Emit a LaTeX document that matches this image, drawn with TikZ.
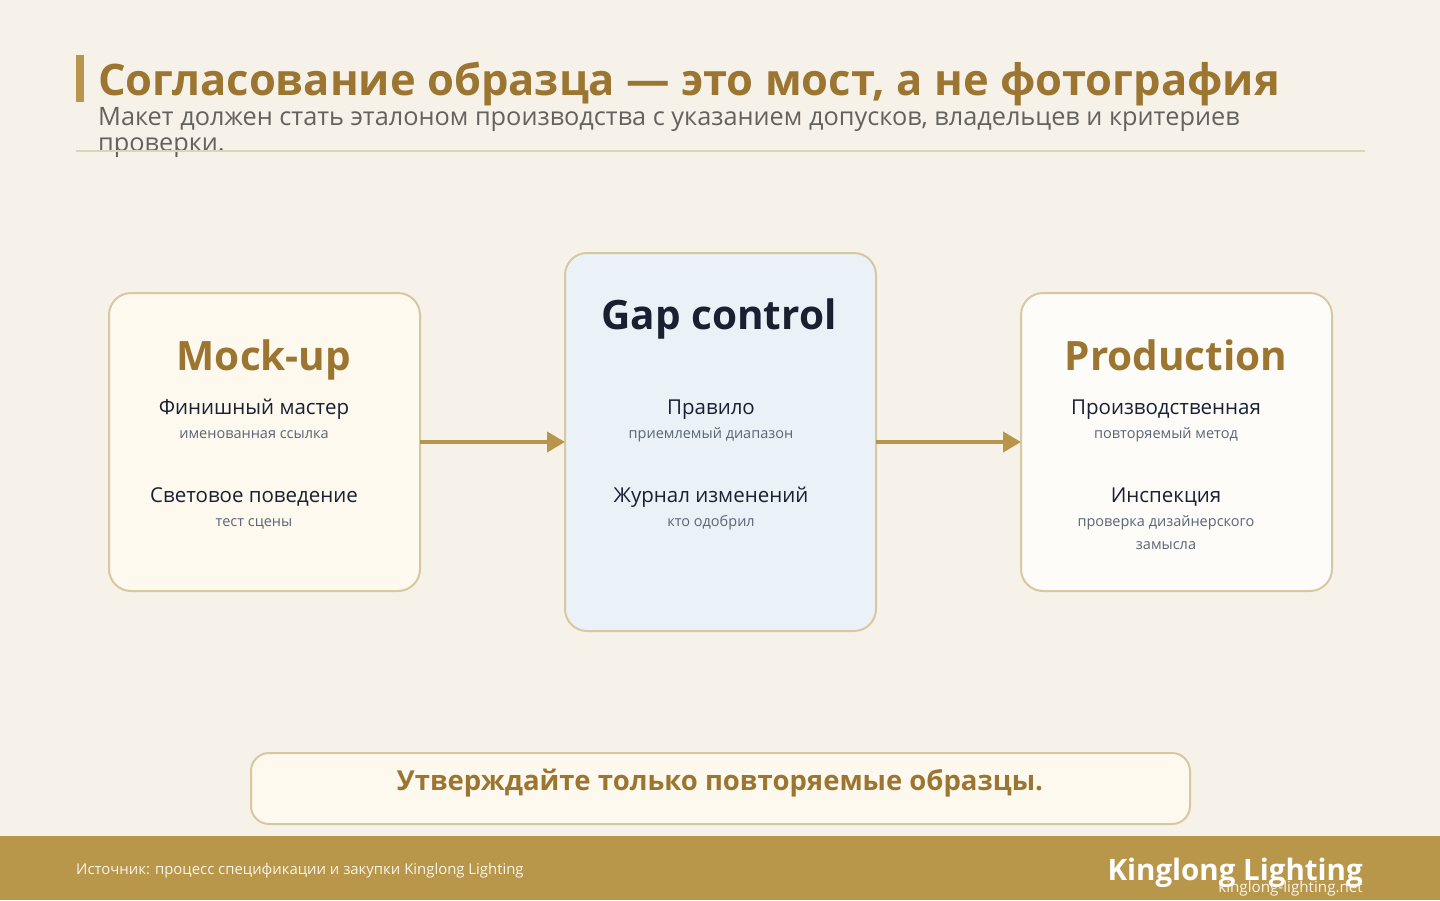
\documentclass[tikz,border=0pt]{standalone}
\usepackage{fontspec}
\setmainfont{Open Sans}
\usetikzlibrary{arrows.meta}
\definecolor{bg}{HTML}{F6F2EA}
\definecolor{gold}{HTML}{9C7630}
\definecolor{accent}{HTML}{B8954A}
\definecolor{rule}{HTML}{DCD3BD}
\definecolor{boxline}{HTML}{D8C8A2}
\definecolor{mockfill}{HTML}{FDF9EF}
\definecolor{gapfill}{HTML}{EAF2F8}
\definecolor{prodfill}{HTML}{FDFCF8}
\definecolor{darktext}{HTML}{1A2030}
\definecolor{subtext}{HTML}{5B6575}
\definecolor{subtitle}{HTML}{64625E}
\definecolor{foot}{HTML}{B8964A}
\definecolor{foottext}{HTML}{FBF5E8}
\tikzset{
  card/.style={draw=boxline, line width=2pt, rounded corners=22pt},
  cardtitle/.style={anchor=base, inner sep=0pt, font=\fontsize{40.5}{48}\selectfont\bfseries},
  item/.style={anchor=base, inner sep=0pt, text=darktext, font=\fontsize{20.5}{24}\selectfont},
  itemsub/.style={anchor=base, inner sep=0pt, text=subtext, font=\fontsize{14.5}{23}\selectfont},
  flow/.style={draw=accent, line width=4pt, -{Triangle[length=18pt,width=20pt]}},
}
\begin{document}
\begin{tikzpicture}[x=1pt,y=-1pt]
\fill[bg] (0,0) rectangle (1440,900);
\useasboundingbox (0,0) rectangle (1440,900);
% header
\fill[accent] (76,55) rectangle (84,102);
\node[anchor=base west, inner sep=0pt, text=gold, font=\fontsize{43.5}{50}\selectfont\bfseries] (title) at (98,95) {Согласование образца — это мост, а не фотография};
\begin{scope}
\clip (0,100) rectangle (1440,157);
\node[anchor=base west, inner sep=0pt, text=subtitle, font=\fontsize{25.3}{28}\selectfont] (sub1) at (98,125) {Макет должен стать эталоном производства с указанием допусков, владельцев и критериев};
\node[anchor=base west, inner sep=0pt, text=subtitle, font=\fontsize{25.3}{28}\selectfont] (sub2) at (98,151) {проверки.};
\end{scope}
\draw[rule, line width=2pt] (76,151) -- (1365,151);
% cards
\path[card, fill=mockfill] (109,293) rectangle (420,591);
\path[card, fill=gapfill] (565,253) rectangle (876,631);
\path[card, fill=prodfill] (1021,293) rectangle (1332,591);
\coordinate (mockE) at (420,442);
\coordinate (gapW) at (565,442);
\coordinate (gapE) at (876,442);
\coordinate (prodW) at (1021,442);
\draw[flow] (mockE) -- (gapW);
\draw[flow] (gapE) -- (prodW);
% mock-up
\node[cardtitle, text=gold] (mt) at (264,370) {Mock-up};
\node[item] (m1) at (254,414) {Финишный мастер};
\node[itemsub] (m1s) at (254,438) {именованная ссылка};
\node[item] (m2) at (254,502) {Световое поведение};
\node[itemsub] (m2s) at (254,526) {тест сцены};
% gap control
\node[cardtitle, text=darktext] (gt) at (719,329) {Gap control};
\node[item] (g1) at (711,414) {Правило};
\node[itemsub] (g1s) at (711,438) {приемлемый диапазон};
\node[item] (g2) at (711,502) {Журнал изменений};
\node[itemsub] (g2s) at (711,526) {кто одобрил};
% production
\node[cardtitle, text=gold] (pt) at (1176,370) {Production};
\node[item] (p1) at (1166,414) {Производственная};
\node[itemsub] (p1s) at (1166,438) {повторяемый метод};
\node[item] (p2) at (1166,502) {Инспекция};
\node[itemsub] (p2s) at (1166,526) {проверка дизайнерского};
\node[itemsub] (p2t) at (1166,549) {замысла};
% callout
\path[draw=boxline, line width=2pt, fill=mockfill, rounded corners=18pt] (251,753) rectangle (1190,824);
\node[anchor=base, inner sep=0pt, text=gold, font=\fontsize{27.5}{32}\selectfont\bfseries] (call) at (720,790) {Утверждайте только повторяемые образцы.};
% footer
\fill[foot] (0,836) rectangle (1440,900);
\node[anchor=base west, inner sep=0pt, text=foottext, font=\fontsize{14.9}{17}\selectfont] (src) at (76,874) {Источник: процесс спецификации и закупки Kinglong Lighting};
\node[anchor=base east, inner sep=0pt, text=white, font=\fontsize{29.5}{34}\selectfont\bfseries] (brand) at (1363,880) {Kinglong Lighting};
\node[anchor=base east, inner sep=0pt, text=foottext, font=\fontsize{15.2}{17}\selectfont] (url) at (1363,892) {kinglong-lighting.net};
\end{tikzpicture}
\end{document}
